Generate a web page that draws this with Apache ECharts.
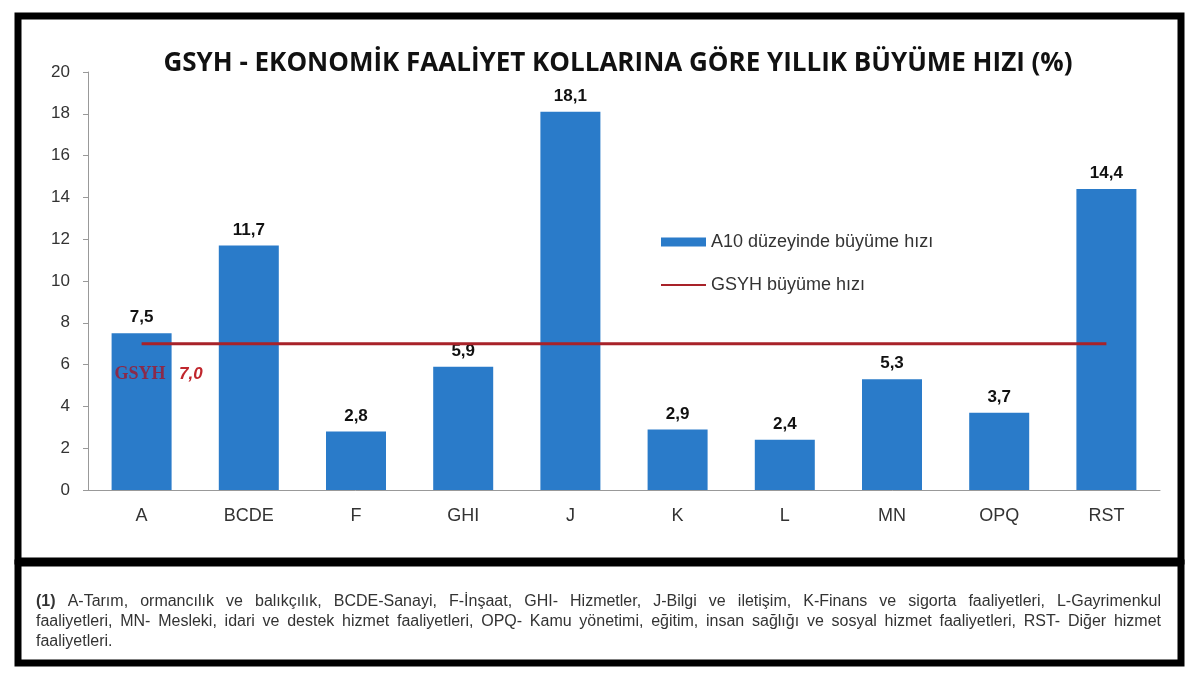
<!DOCTYPE html>
<html>
<head>
<meta charset="utf-8">
<script src="https://cdn.jsdelivr.net/npm/echarts@6/dist/echarts.min.js"></script>
<style>
html,body{margin:0;padding:0;background:#fff;}
#chart{width:1200px;height:700px;}
</style>
</head>
<body>
<div id="chart"></div>
<script>
const titleText = 'GSYH - EKONOMİK FAALİYET KOLLARINA GÖRE YILLIK BÜYÜME HIZI (%)';
const categories = ['A', 'BCDE', 'F', 'GHI', 'J', 'K', 'L', 'MN', 'OPQ', 'RST'];
const growthA10 = [7.5, 11.7, 2.8, 5.9, 18.1, 2.9, 2.4, 5.3, 3.7, 14.4];
const gsyhGrowth = [7.0, 7.0, 7.0, 7.0, 7.0, 7.0, 7.0, 7.0, 7.0, 7.0];
const yTicks = [0, 2, 4, 6, 8, 10, 12, 14, 16, 18, 20];
const seriesNames = ['A10 düzeyinde büyüme hızı', 'GSYH büyüme hızı'];
const footnoteLines = [
  '(1) A-Tarım, ormancılık ve balıkçılık, BCDE-Sanayi, F-İnşaat, GHI- Hizmetler, J-Bilgi ve iletişim, K-Finans ve sigorta faaliyetleri, L-Gayrimenkul',
  'faaliyetleri, MN- Mesleki, idari ve destek hizmet faaliyetleri, OPQ- Kamu yönetimi, eğitim, insan sağlığı ve sosyal hizmet faaliyetleri, RST- Diğer hizmet',
  'faaliyetleri.'
];

const fmt = v => String(v.toFixed(1)).replace('.', ',');

// Justified footnote text (words laid out across the box width)
const FN_FONT = 16, FN_LEFT = 36, FN_RIGHT = 1161, FN_TOP = 594, FN_LH = 20;
const measureCtx = document.createElement('canvas').getContext('2d');
function footnoteGraphics() {
  const out = [];
  footnoteLines.forEach((line, li) => {
    const words = line.split(' ');
    const widths = words.map((w, wi) => {
      const bold = (li === 0 && wi === 0);
      measureCtx.font = (bold ? 'bold ' : '') + FN_FONT + 'px "Liberation Sans"';
      return measureCtx.measureText(w).width;
    });
    const total = widths.reduce((a, b) => a + b, 0);
    const justify = li < footnoteLines.length - 1;
    const gap = justify ? (FN_RIGHT - FN_LEFT - total) / (words.length - 1) : FN_FONT * 0.28;
    let x = FN_LEFT;
    words.forEach((w, wi) => {
      const bold = (li === 0 && wi === 0);
      out.push({
        type: 'text', x: x, y: FN_TOP + li * FN_LH, z: 50,
        style: {text: w, fontFamily: 'Liberation Sans', fontSize: FN_FONT,
          fontWeight: bold ? 'bold' : 'normal', fill: '#333', textVerticalAlign: 'top'}
      });
      x += widths[wi] + gap;
    });
  });
  return out;
}

const chart = echarts.init(document.getElementById('chart'), null, {renderer: 'canvas'});

const option = {
  backgroundColor: '#ffffff',
  animation: false,
  title: {
    text: titleText,
    left: 613,
    top: 46,
    textAlign: 'center',
    textStyle: {fontFamily: 'Open Sans', fontWeight: 'bold', fontSize: 26, color: '#111'}
  },
  legend: {
    orient: 'vertical',
    left: 655,
    top: 228,
    itemGap: 25,
    itemWidth: 45,
    itemHeight: 9,
    textStyle: {fontFamily: 'Liberation Sans', fontSize: 18, color: '#333'},
    data: [
      {name: seriesNames[0], icon: 'rect'},
      {name: seriesNames[1], itemStyle: {opacity: 0}}
    ]
  },
  grid: {left: 88, right: 40, top: 72, bottom: 210},
  xAxis: {
    type: 'category',
    data: categories,
    axisLine: {lineStyle: {color: '#999', width: 1}},
    axisTick: {show: false},
    axisLabel: {fontFamily: 'Liberation Sans', fontSize: 18, color: '#333', margin: 17}
  },
  yAxis: {
    type: 'value',
    min: 0, max: 20, interval: 2,
    axisLine: {show: true, lineStyle: {color: '#999', width: 1}},
    axisTick: {show: true, length: 5, lineStyle: {color: '#999'}},
    splitLine: {show: false},
    axisLabel: {fontFamily: 'Liberation Sans', fontSize: 17, color: '#333', margin: 18,
      formatter: v => yTicks.includes(v) ? String(v) : ''}
  },
  series: [
    {
      name: seriesNames[0],
      type: 'bar',
      data: growthA10,
      barWidth: 60,
      itemStyle: {color: '#2a7bc9'},
      label: {show: true, position: 'top', distance: 7, fontFamily: 'Liberation Sans',
        fontWeight: 'bold', fontSize: 17, color: '#111', formatter: p => fmt(p.value)}
    },
    {
      name: seriesNames[1],
      type: 'line',
      data: gsyhGrowth.map((v, i) => i === 0 ? {
        value: v,
        label: {
          show: true, position: 'bottom', distance: 22, offset: [17, 0],
          formatter: () => '{a|GSYH}    {b|' + fmt(v) + '}',
          rich: {
            a: {fontFamily: 'Liberation Serif', fontWeight: 'bold', fontSize: 18, color: '#8a2a4a'},
            b: {fontFamily: 'Liberation Sans', fontWeight: 'bold', fontStyle: 'italic', fontSize: 17, color: '#c0272d'}
          }
        }
      } : v),
      symbol: 'circle',
      symbolSize: 0,
      lineStyle: {color: '#a82229', width: 3},
      itemStyle: {color: '#a82229'},
      z: 5
    }
  ],
  graphic: [
    {type: 'rect', shape: {x: 18, y: 16, width: 1163, height: 545}, style: {fill: 'none', stroke: '#000', lineWidth: 7}, z: 100},
    {type: 'rect', shape: {x: 18, y: 563, width: 1163, height: 100}, style: {fill: 'none', stroke: '#000', lineWidth: 7}, z: 100}
  ].concat(footnoteGraphics())
};
chart.setOption(option);
</script>
</body>
</html>
